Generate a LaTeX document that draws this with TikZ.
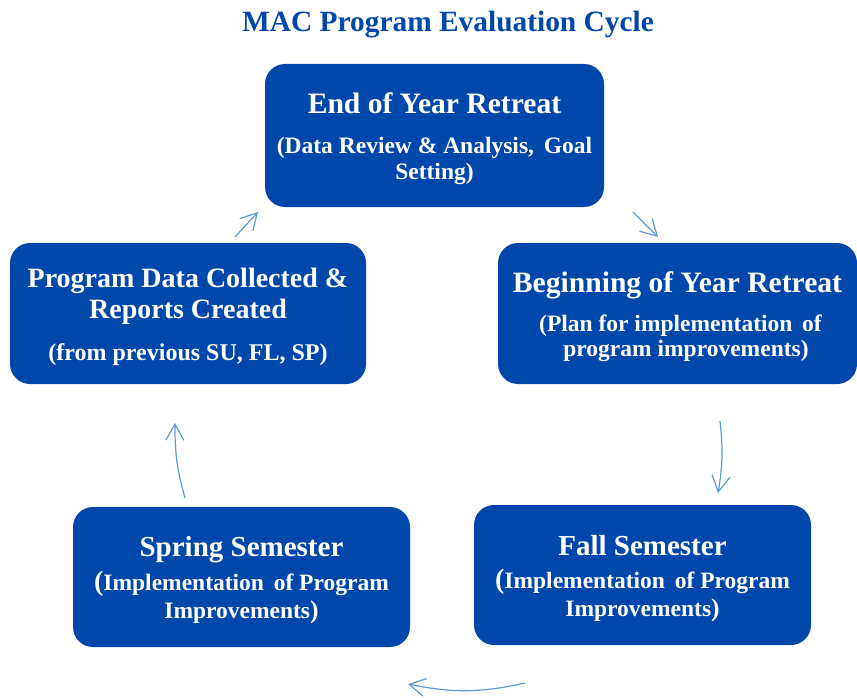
\documentclass[tikz,border=0pt]{standalone}
\usepackage{fontspec}
\setmainfont{Liberation Serif}
\usetikzlibrary{arrows.meta}
\definecolor{boxblue}{RGB}{0,71,171}
\definecolor{flowblue}{RGB}{91,155,213}
\tikzset{
  stagebox/.style={fill=boxblue, draw=none, rounded corners=20pt, inner sep=0pt,
    text=white, align=center, font=\bfseries\fontsize{23.5}{25.5}\selectfont},
  flow/.style={draw=flowblue, line width=1.2pt,
    -{Straight Barb[length=16pt,width=18pt,line width=1.2pt]}},
}
% heading sizes and a strut that lowers the text block inside its box
\newcommand{\headfont}{\fontsize{29}{29}\selectfont}
\newcommand{\bigheadfont}{\fontsize{29.6}{29.6}\selectfont}
\newcommand{\topstrut}{\rule{0pt}{27pt}}
\begin{document}
\begin{tikzpicture}[x=1pt,y=-1pt]
\useasboundingbox (0,0) rectangle (857,698);

% title
\node[text=boxblue, font=\bfseries\fontsize{29.4}{29.4}\selectfont] (title) at (448,24.5) {MAC Program Evaluation Cycle};

% stages of the cycle
\node[stagebox, minimum width=339pt, minimum height=143pt] (eoy) at (434.5,135.5)
  {\topstrut{\bigheadfont End of Year Retreat}\\[14.5pt]
   (Data Review \& Analysis,\, Goal\\
   Setting)};
\node[stagebox, minimum width=359pt, minimum height=141pt] (boy) at (677.5,313.5)
  {\topstrut{\bigheadfont Beginning of Year Retreat}\\[13.5pt]
   \hspace*{6pt}(Plan for implementation\, of\\
   \hspace*{17pt}program improvements)};
\node[stagebox, minimum width=337pt, minimum height=140pt] (fall) at (642.5,575)
  {\topstrut{\headfont Fall Semester}\\[7.5pt]
   {\fontsize{28}{28}\selectfont(}Implementation\, of Program\\[2.5pt]
   Improvements{\fontsize{25.5}{25}\selectfont)}};
\node[stagebox, minimum width=337pt, minimum height=140pt] (spring) at (241.5,577)
  {\topstrut{\headfont Spring Semester}\\[7.5pt]
   {\fontsize{28}{28}\selectfont(}Implementation\, of Program\\[2.5pt]
   Improvements{\fontsize{25.5}{25}\selectfont)}};
\node[stagebox, minimum width=356pt, minimum height=141pt] (data) at (188,313.5)
  {\rule{0pt}{26pt}{\fontsize{28}{28}\selectfont Program Data Collected \&}\\[3.5pt]
   {\fontsize{28}{28}\selectfont Reports Created}\\[16.5pt]
   {\fontsize{24}{25.5}\selectfont(from previous SU, FL, SP)}};

% arrows between the stages
\coordinate (a1s) at (633,212);  \coordinate (a1e) at (658,237);
\coordinate (a2s) at (720,421);  \coordinate (a2e) at (718,493);
\coordinate (a3s) at (525,683);  \coordinate (a3e) at (408,684);
\coordinate (a4s) at (185,498);  \coordinate (a4e) at (175,423);
\coordinate (a5s) at (235,237);  \coordinate (a5e) at (258,212);

\draw[flow] (a1s) -- (a1e);
\draw[flow] (a2s) to[bend left=8] (a2e);
\draw[flow] (a3s) to[bend left=12] (a3e);
\draw[flow] (a4s) to[bend left=8] (a4e);
\draw[flow] (a5s) -- (a5e);
\end{tikzpicture}
\end{document}
